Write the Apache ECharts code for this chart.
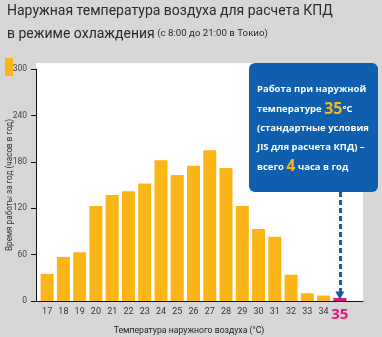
<!DOCTYPE html>
<html><head><meta charset="utf-8">
<script src="https://cdn.jsdelivr.net/npm/echarts@6/dist/echarts.min.js"></script>
<style>html,body{margin:0;padding:0;background:#d7d7d7;}#c{width:382px;height:337px;}</style>
</head><body><div id="c"></div>
<script>
var categories = ['17','18','19','20','21','22','23','24','25','26','27','28','29','30','31','32','33','34','35'];
var hours = [35, 57, 63, 123, 137, 142, 152, 182, 163, 175, 195, 172, 123, 93, 83, 34, 10, 7, 4];
var yTicks = [0, 60, 120, 180, 240, 300];
var titleLine1 = 'Наружная температура воздуха для расчета КПД';
var titleLine2a = 'в режиме охлаждения';
var titleLine2b = ' (с 8:00 до 21:00 в Токио)';
var yName = 'Время работы за год (часов в год)';
var xName = 'Температура наружного воздуха (°C)';
var highlightCat = '35';
var highlightValue = 4;
var arrowFrom = 141;

var FONT = '"Open Sans", "Noto Sans", sans-serif';
var TFONT = 'Roboto, "Open Sans", sans-serif';
var ORANGE = '#fbb517', PINK = '#e2157f', BLUE = '#0f5fae';

var chart = echarts.init(document.getElementById('c'), null, {renderer: 'canvas'});
chart.setOption({
  backgroundColor: '#d7d7d7',
  animation: false,
  textStyle: {fontFamily: FONT},
  grid: [
    {left: 39, right: 34, top: 69, bottom: 36, containLabel: false, outerBoundsMode: 'none', z: 2},
    {left: 36, right: 19, top: 63, bottom: 36, show: true, backgroundColor: '#ffffff', borderWidth: 0, z: 0, outerBoundsMode: 'none'}
  ],
  xAxis: [
    {
      type: 'category', gridIndex: 0, data: categories,
      axisLine: {show: false}, axisTick: {show: false},
      axisLabel: {
        interval: 0,
        color: '#333', fontSize: 9, margin: 6, fontFamily: TFONT,
        formatter: function (v) { return v === highlightCat ? '{h|' + v + '}' : v; },
        rich: {h: {color: PINK, fontSize: 15, fontWeight: 'bold', fontFamily: FONT}}
      },
      name: xName, nameLocation: 'middle', nameGap: 25, nameMoveOverlap: false,
      nameTextStyle: {color: '#222', fontSize: 8.7, fontFamily: TFONT, padding: [0, 9, 0, 0]}
    },
    {
      type: 'value', gridIndex: 1, min: 0, max: 1, z: 5,
      axisLine: {show: true, lineStyle: {color: '#111', width: 1}},
      axisTick: {show: false}, axisLabel: {show: false}, splitLine: {show: false}
    }
  ],
  yAxis: [
    {
      type: 'value', gridIndex: 0, min: 0, max: 300, interval: 60, offset: 3, z: 5,
      axisLine: {show: true, lineStyle: {color: '#111', width: 1}},
      axisTick: {show: true, length: 5, lineStyle: {color: '#111'}},
      axisLabel: {color: '#444', fontSize: 8.5, margin: 9, fontFamily: TFONT},
      splitLine: {show: false},
      name: yName, nameLocation: 'middle', nameGap: 22, nameMoveOverlap: false,
      nameTextStyle: {color: '#333', fontSize: 8.2, fontFamily: TFONT}
    },
    {type: 'value', gridIndex: 1, show: false}
  ],
  series: [{
    type: 'bar', xAxisIndex: 0, yAxisIndex: 0, z: 3,
    barWidth: 13,
    data: hours.map(function (v, i) {
      return categories[i] === highlightCat ? {value: v, itemStyle: {color: PINK}} : v;
    }),
    itemStyle: {color: ORANGE},
    markLine: {
      silent: true, symbol: ['none', 'triangle'], symbolSize: [9, 8],
      label: {show: false},
      lineStyle: {color: BLUE, type: [5, 3], width: 3},
      data: [[{coord: [highlightCat, arrowFrom]}, {coord: [highlightCat, highlightValue + 3]}]]
    }
  }],
  graphic: [
    {type: 'text', left: 7, top: 4, style: {text: titleLine1, fill: '#2a2a2a', font: '14px ' + TFONT}},
    {type: 'text', left: 7, top: 27, style: {
      text: '{a|' + titleLine2a + '}{b|' + titleLine2b + '}',
      rich: {a: {fill: '#2a2a2a', fontSize: 14, fontFamily: TFONT}, b: {fill: '#2a2a2a', fontSize: 9.7, fontFamily: TFONT}}
    }},
    {type: 'rect', left: 5, top: 58, shape: {width: 8, height: 18}, style: {fill: ORANGE}},
    {type: 'rect', left: 249, top: 63, z: 10, shape: {width: 129, height: 129, r: 6}, style: {fill: BLUE}},
    {type: 'text', left: 257, top: 80, z: 11, style: {
      text: 'Работа при наружной\nтемпературе {o|35}°C\n(стандартные условия\nJIS для расчета КПД) –\nвсего {o|4} часа в год',
      fill: '#ffffff', fontSize: 9.5, fontWeight: 'bold', fontFamily: FONT, lineHeight: 19.3,
      rich: {o: {fill: ORANGE, fontSize: 16, fontWeight: 'bold', fontFamily: FONT, lineHeight: 19.3}}
    }}
  ]
});
</script></body></html>
